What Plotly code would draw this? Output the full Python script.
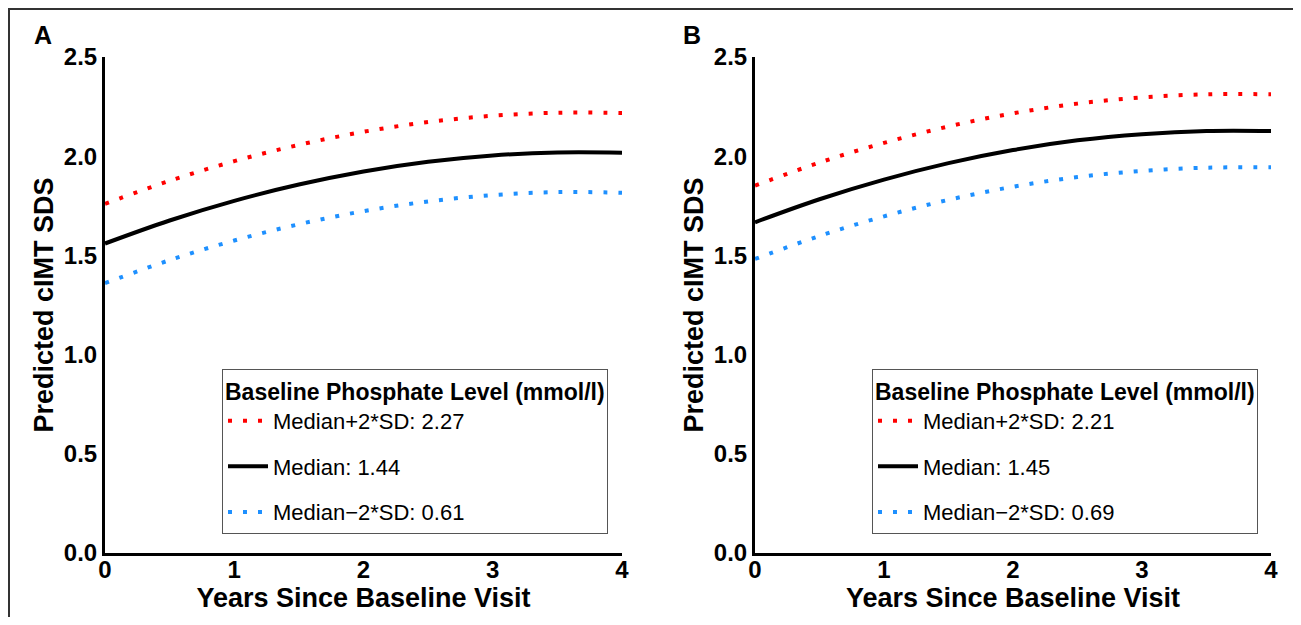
import plotly.graph_objects as go

# ---- data ----
years = [0, 0.5, 1, 1.5, 2, 2.5, 3, 3.5, 4]

# Panel A
a_high = [1.76, 1.876, 1.975, 2.057, 2.123, 2.172, 2.204, 2.219, 2.218]
a_med = [1.56, 1.676, 1.775, 1.857, 1.923, 1.972, 2.004, 2.019, 2.018]
a_low = [1.36, 1.476, 1.575, 1.657, 1.723, 1.772, 1.804, 1.819, 1.816]
a_names = ["Median+2*SD: 2.27", "Median: 1.44", "Median\u22122*SD: 0.61"]

# Panel B
b_high = [1.852, 1.968, 2.067, 2.150, 2.216, 2.265, 2.296, 2.312, 2.312]
b_med = [1.667, 1.783, 1.882, 1.965, 2.031, 2.080, 2.111, 2.127, 2.127]
b_low = [1.482, 1.598, 1.697, 1.780, 1.846, 1.895, 1.926, 1.942, 1.944]
b_names = ["Median+2*SD: 2.21", "Median: 1.45", "Median\u22122*SD: 0.69"]

panel_labels = ["A", "B"]
y_ticks = [0, 0.5, 1.0, 1.5, 2.0, 2.5]
x_ticks = [0, 1, 2, 3, 4]
legend_title = "Baseline Phosphate Level (mmol/l)"
x_title = "Years Since Baseline Visit"
y_title = "Predicted cIMT SDS"

RED = "#FF0000"
BLACK = "#000000"
BLUE = "#1E90FF"
FONT = "Arial, Liberation Sans, sans-serif"
OFF = 8  # page body margin
W, H = 1301 - 2 * OFF, 625 - 2 * OFF


def px(x):
    return (x - OFF) / W


def py(y):
    return 1 - (y - OFF) / H


fig = go.Figure()


def add_panel(highs, meds, lows, names, xa, ya, leg, tag):
    styles = [
        (highs, RED, "4px,11px"),
        (meds, BLACK, "solid"),
        (lows, BLUE, "4px,11px"),
    ]
    for i, ((vals, col, dash), nm) in enumerate(zip(styles, names)):
        fig.add_trace(go.Scatter(
            x=years, y=vals, mode="lines", name=nm,
            line=dict(color=col, width=4, dash=dash, shape="spline"),
            xaxis=xa, yaxis=ya, legend=leg, legendgroup=f"{tag}{i}",
        ))


add_panel(a_high, a_med, a_low, a_names, "x", "y", "legend", "a")
add_panel(b_high, b_med, b_low, b_names, "x2", "y2", "legend2", "b")

ydom = [py(553), py(57)]
axis_common = dict(
    showline=True, linecolor="black", linewidth=3, showgrid=False, automargin=False,
    zeroline=False, ticks="", tickfont=dict(family=FONT, size=24, color="black", weight="bold"),
    title_font=dict(family=FONT, size=27, color="black", weight="bold"),
)


def xaxis(dom, anchor):
    return dict(domain=dom, anchor=anchor, range=[0, 4], tickvals=x_ticks,
                ticklabelstandoff=-7,
                title=dict(text=x_title, standoff=4), **axis_common)


def yaxis(anchor):
    return dict(domain=ydom, anchor=anchor, range=[0, 2.5], tickvals=y_ticks,
                tickformat=".1f", title=dict(text=y_title, standoff=3), **axis_common)


def legend(xpx):
    return dict(
        x=px(xpx), y=py(369), xanchor="left", yanchor="top",
        bgcolor="white", bordercolor="#555555", borderwidth=1,
        font=dict(family=FONT, size=22, color="black"),
        title=dict(text=legend_title, font=dict(family=FONT, size=23, color="black", weight="bold")),
        tracegroupgap=14, itemwidth=40, traceorder="grouped",
    )


fig.update_layout(
    width=W, height=H,
    margin=dict(l=0, r=0, t=0, b=0),
    paper_bgcolor="white", plot_bgcolor="white",
    xaxis=xaxis([px(105), px(622)], "y"),
    yaxis=yaxis("x"),
    xaxis2=xaxis([px(755), px(1271)], "y2"),
    yaxis2=yaxis("x2"),
    legend=legend(222),
    legend2=legend(872),
    showlegend=True,
    annotations=[
        dict(text=panel_labels[0], x=px(32), y=py(35), xref="paper", yref="paper",
             xanchor="left", yanchor="middle", showarrow=False,
             font=dict(family=FONT, size=25, color="black", weight="bold")),
        dict(text=panel_labels[1], x=px(681), y=py(35), xref="paper", yref="paper",
             xanchor="left", yanchor="middle", showarrow=False,
             font=dict(family=FONT, size=25, color="black", weight="bold")),
    ],
    shapes=[
        dict(type="line", xref="paper", yref="paper", x0=px(8), x1=1.0, y0=py(9), y1=py(9),
             line=dict(color="#333333", width=2)),
        dict(type="line", xref="paper", yref="paper", x0=px(9), x1=px(9), y0=py(9), y1=0,
             line=dict(color="#333333", width=2)),
    ],
)

fig.write_html("out.html")
